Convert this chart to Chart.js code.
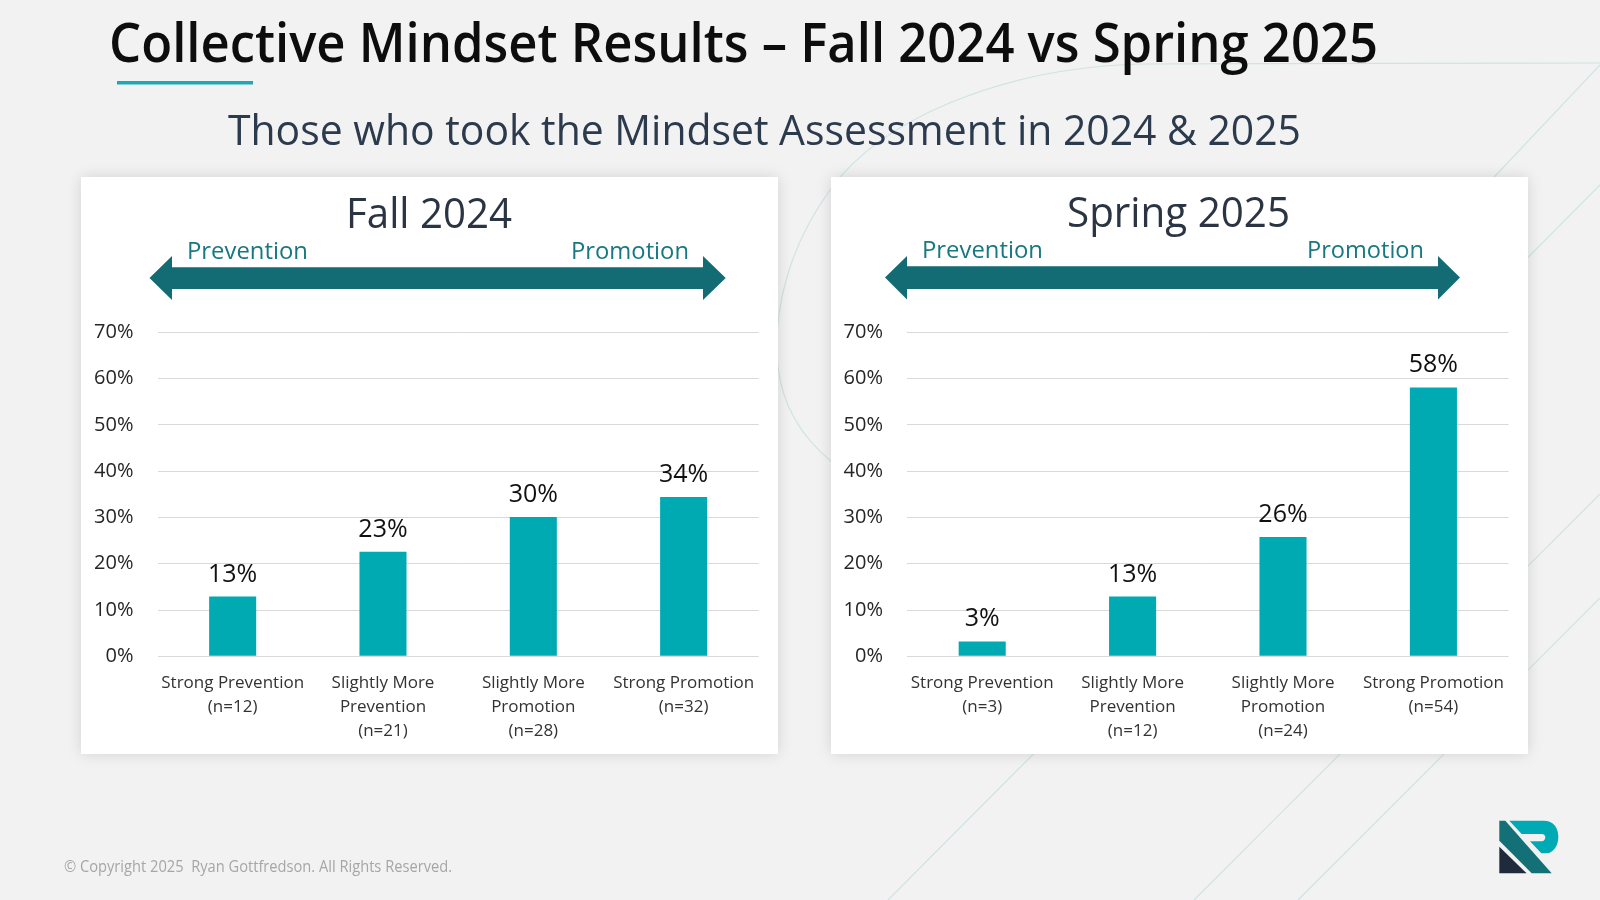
<!DOCTYPE html>
<html>
<head>
<meta charset="utf-8">
<script src="https://cdn.jsdelivr.net/npm/chart.js@4.4.1/dist/chart.umd.min.js"></script>
<style>
html,body{margin:0;padding:0;}
body{width:1600px;height:900px;background:#F2F2F2;position:relative;overflow:hidden;font-family:'Open Sans',sans-serif;}
.layer{position:absolute;left:0;top:0;}
.panel{position:absolute;background:#FFFFFF;box-shadow:0 0 14px rgba(0,0,0,0.13);}
.panel canvas{position:absolute;left:0;top:133px;}
</style>
</head>
<body>
<svg class="layer" width="1600" height="900">
  <g stroke="#CFE3E3" stroke-width="1.2" fill="none">
    <line x1="888" y1="900" x2="1600" y2="185"/>
    <line x1="1194" y1="900" x2="1600" y2="494"/>
    <line x1="1298" y1="900" x2="1600" y2="598"/>
    <line x1="1600" y1="65" x2="1480" y2="192"/>
    <path d="M1600,63 L1140,64 C1000,68 880,120 830,190 C790,245 772,310 778,367 C783,410 805,440 832,462"/>
  </g>
</svg>

<div class="panel" style="left:81px;top:177px;width:697px;height:577px"><canvas id="fallChart" width="697" height="444"></canvas></div>
<div class="panel" style="left:831px;top:177px;width:697px;height:577px"><canvas id="springChart" width="697" height="444"></canvas></div>

<svg class="layer" width="1600" height="900" style="pointer-events:none">
  <text x="109" y="62" font-family="Open Sans" font-weight="600" font-size="55" fill="#0D0D0D" textLength="1269" lengthAdjust="spacingAndGlyphs">Collective Mindset Results – Fall 2024 vs Spring 2025</text>
  <rect x="117" y="81" width="136" height="3.5" fill="#1BAAB3"/>
  <text x="228" y="145" font-family="Open Sans" font-size="42" fill="#2B3A4C" textLength="1073" lengthAdjust="spacingAndGlyphs">Those who took the Mindset Assessment in 2024 &amp; 2025</text>

  <text x="346" y="228" font-family="Open Sans" font-size="42" fill="#2A3442" textLength="166" lengthAdjust="spacingAndGlyphs">Fall 2024</text>
  <text x="187" y="259" font-family="Open Sans" font-size="24" fill="#187880" textLength="121" lengthAdjust="spacingAndGlyphs">Prevention</text>
  <text x="571" y="259" font-family="Open Sans" font-size="24" fill="#187880" textLength="118" lengthAdjust="spacingAndGlyphs">Promotion</text>
  <polygon fill="#136B74" points="149.5,278 172,256 172,267.3 703,267.3 703,256 725.7,278 703,300 703,289 172,289 172,300"/>

  <text x="1067" y="227" font-family="Open Sans" font-size="42" fill="#2A3442" textLength="223" lengthAdjust="spacingAndGlyphs">Spring 2025</text>
  <text x="922" y="258" font-family="Open Sans" font-size="24" fill="#187880" textLength="121" lengthAdjust="spacingAndGlyphs">Prevention</text>
  <text x="1307" y="258" font-family="Open Sans" font-size="24" fill="#187880" textLength="117" lengthAdjust="spacingAndGlyphs">Promotion</text>
  <polygon fill="#136B74" points="885,277.5 907,256 907,266.3 1438,266.3 1438,256 1460,277.5 1438,299.5 1438,289 907,289 907,299.5"/>

  <text x="64" y="872" font-family="Open Sans" font-size="16" fill="#A6A6A6" textLength="388" lengthAdjust="spacingAndGlyphs">© Copyright 2025&#160; Ryan Gottfredson. All Rights Reserved.</text>

  <g transform="translate(1480,800) scale(0.3333)">
    <polygon fill="#1F2A3C" points="58,140 58,220 140,220"/>
    <polygon fill="#137077" points="58,62 76,62 215,220 155,220 58,122"/>
    <path fill="#00AAB5" d="M88,62 H190 C222,62 235,85 235,110 C235,138 220,158 200,160 L184,160 L150,124 H185 C192,124 196,118 196,112 C196,106 192,102 185,102 H125 Z"/>
  </g>
</svg>

<script>
// ---- Data ----
const fallCategories = [
  ['Strong Prevention', '(n=12)'],
  ['Slightly More', 'Prevention', '(n=21)'],
  ['Slightly More', 'Promotion', '(n=28)'],
  ['Strong Promotion', '(n=32)']
];
const fallValues = [12.9, 22.6, 30.1, 34.4];

const springCategories = [
  ['Strong Prevention', '(n=3)'],
  ['Slightly More', 'Prevention', '(n=12)'],
  ['Slightly More', 'Promotion', '(n=24)'],
  ['Strong Promotion', '(n=54)']
];
const springValues = [3.2, 12.9, 25.8, 58.1];

const yMin = 0, yMax = 70, yStep = 10;

// ---- Chart helpers ----
const valueLabels = {
  id: 'valueLabels',
  afterDatasetsDraw(chart) {
    const ctx = chart.ctx;
    const meta = chart.getDatasetMeta(0);
    const data = chart.data.datasets[0].data;
    ctx.save();
    ctx.font = "25px 'Open Sans'";
    ctx.fillStyle = '#111111';
    ctx.textAlign = 'center';
    ctx.textBaseline = 'alphabetic';
    meta.data.forEach((bar, i) => {
      ctx.fillText(Math.round(data[i]) + '%', bar.x, bar.y - 15);
    });
    ctx.restore();
  }
};

function makeChart(id, labels, values, yWidth, rightPad) {
  return new Chart(document.getElementById(id), {
    type: 'bar',
    data: {
      labels: labels,
      datasets: [{
        data: values,
        backgroundColor: '#00AAB3',
        borderWidth: 0,
        categoryPercentage: 0.626,
        barPercentage: 0.5
      }]
    },
    options: {
      responsive: false,
      animation: false,
      devicePixelRatio: 1,
      layout: { padding: { left: 0, right: rightPad, top: 22.3, bottom: 0 } },
      plugins: { legend: { display: false }, tooltip: { enabled: false } },
      scales: {
        y: {
          min: yMin, max: yMax,
          ticks: {
            stepSize: yStep,
            padding: 0,
            color: '#262626',
            font: { family: "'Open Sans'", size: 20 },
            callback: v => v + '%'
          },
          grid: { color: '#D9D9D9', lineWidth: 1, drawTicks: true, tickLength: 24, tickColor: 'rgba(0,0,0,0)' },
          border: { display: false },
          afterFit: s => { s.width = yWidth; }
        },
        x: {
          ticks: {
            padding: 15,
            color: '#333333',
            maxRotation: 0, minRotation: 0, autoSkip: false,
            font: { family: "'Open Sans'", size: 17, lineHeight: '24px' }
          },
          grid: { display: false, drawTicks: false },
          border: { display: false },
          afterFit: s => { s.height = 97.7; }
        }
      }
    },
    plugins: [valueLabels]
  });
}

makeChart('fallChart', fallCategories, fallValues, 76.5, 19.2);
makeChart('springChart', springCategories, springValues, 76, 19.4);
</script>
</body>
</html>
